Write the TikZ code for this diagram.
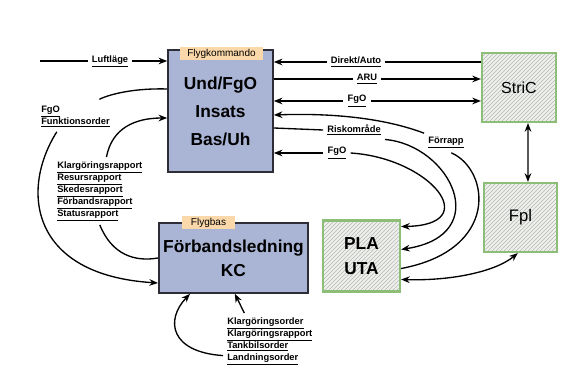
\documentclass[tikz,border=0pt]{standalone}
\usepackage{fontspec}
\setmainfont{Liberation Sans}
\usepackage{tikz}
\usetikzlibrary{positioning,arrows.meta,patterns}

\begin{document}
\begin{tikzpicture}[x=0.75pt,y=0.75pt,yscale=-1,xscale=1,
  conn/.style={line width=1pt, >={Stealth[length=6.5pt,width=5pt]}},
  unitbox/.style={draw={rgb, 255:red, 45; green, 45; blue, 55}, line width=1.2pt, fill={rgb, 255:red, 170; green, 181; blue, 214}, align=center},
  tabnode/.style={fill={rgb, 255:red, 250; green, 216; blue, 170}, font=\fontsize{7.5}{8}\selectfont, inner sep=1pt, minimum height=9.75pt},
  stnbox/.style={draw={rgb, 255:red, 140; green, 190; blue, 120}, line width=1.6pt, preaction={fill={rgb, 255:red, 238; green, 240; blue, 236}}, pattern=north east lines, pattern color=black!28, align=center},
  lbl/.style={font=\fontsize{7}{9}\selectfont\bfseries, inner sep=3pt, align=left}]
\useasboundingbox (0,0) rectangle (575,391);

%Boxes
\node[unitbox, minimum width=78.75pt, minimum height=91.5pt, font=\fontsize{13}{21}\selectfont\bfseries] (fk) at (220.5,111) {Und/FgO\\Insats\\Bas/Uh};
\node[tabnode, minimum width=62pt] (fktab) at (221.5,54) {Flygkommando};
\node[unitbox, minimum width=110.25pt, minimum height=52.5pt, font=\fontsize{13}{18}\selectfont\bfseries] (fb) at (233.5,258) {Förbandsledning\\KC};
\node[tabnode, minimum width=40pt] (fbtab) at (208.5,223) {Flygbas};
\node[stnbox, minimum width=57.75pt, minimum height=53.25pt, font=\fontsize{13}{18.75}\selectfont\bfseries] (pla) at (361.5,256) {PLA\\UTA};
\node[stnbox, minimum width=55.5pt, minimum height=51.75pt, font=\fontsize{12}{14}\selectfont] (stric) at (519,87.5) {StriC};
\node[stnbox, minimum width=54.75pt, minimum height=51.75pt, font=\fontsize{12.5}{14}\selectfont] (fpl) at (520.5,217.5) {Fpl};

%Labels
\coordinate (luftin) at (40,61);
\node[lbl] (luft) at (110,61) {\underline{Luftläge}};
\node[lbl] (direkt) at (356,62) {\underline{Direkt/Auto}};
\node[lbl] (aru) at (367,79) {\underline{ARU}};
\node[lbl] (fgoa) at (357,101) {\underline{FgO}};
\node[lbl] (forrapp) at (446,143) {\underline{Förrapp}};
\node[lbl] (risk) at (354,130) {\underline{Riskområde}};
\node[lbl] (fgob) at (337,153) {\underline{FgO}};
\node[lbl, anchor=north west] (funk) at (37,102) {\underline{FgO}\\\underline{Funktionsorder}};
\node[lbl, anchor=north west] (rap) at (53,157) {\underline{Klargöringsrapport}\\\underline{Resursrapport}\\\underline{Skedesrapport}\\\underline{Förbandsrapport}\\\underline{Statusrapport}};
\node[lbl, anchor=north west] (ord) at (223,313) {\underline{Klargöringsorder}\\\underline{Klargöringsrapport}\\\underline{Tankbilsorder}\\\underline{Landningsorder}};

%Connectors, right side
\draw[conn] (luftin) -- (luft);
\draw[conn,->] (luft) -- (fk.west |- luft);
\draw[conn,<-] (fk.east |- direkt) -- (direkt);
\draw[conn] (direkt) -- (stric.west |- direkt);
\draw[conn] (fk.east |- aru) -- (aru);
\draw[conn,->] (aru) -- (stric.west |- aru);
\draw[conn,<-] (fk.east |- fgoa) -- (fgoa);
\draw[conn,->] (fgoa) -- (stric.west |- fgoa);
\draw[conn,<-] ([yshift=3pt]fk.east) .. controls (360,112) and (405,126) .. (forrapp.north west);
\draw[conn] ([xshift=4pt]forrapp.south) .. controls (490,170) and (500,250) .. ([yshift=9.4pt]pla.east);
\draw[conn] ([yshift=12.75pt]fk.east) -- (risk.west);
\draw[conn,->] (risk.south east) .. controls (450,145) and (495,235) .. ([yshift=-4.9pt]pla.east);
\draw[conn,<-] (fk.east |- fgob) -- (fgob);
\draw[conn,->] (fgob.east) .. controls (430,158) and (485,225) .. ([yshift=-22.1pt]pla.east);
\draw[conn,<->] ([yshift=17.6pt]pla.east) .. controls (450,281) and (495,272) .. ([xshift=-2pt]fpl.south);
\draw[conn,<->] ([xshift=6.75pt]stric.south) -- ([xshift=5.6pt]fpl.north);

%Connectors, left side
\draw[conn] ([yshift=-16.5pt]fk.west) .. controls (135,88) and (110,94) .. ([xshift=-11pt,yshift=-2pt]funk.north east);
\draw[conn,->] ([xshift=-14pt]funk.south) .. controls (20,190) and (30,275) .. ([yshift=18.75pt]fb.west);
\draw[conn,->] ([xshift=5pt]rap.north) .. controls (112,128) and (135,118) .. ([yshift=5.25pt]fk.west);
\draw[conn] (rap.south) .. controls (112,255) and (135,262) .. (fb.west);
\draw[conn,->] ([xshift=16pt]ord.north west) -- ([xshift=1pt]fb.south);
\draw[conn,->] ([yshift=-10pt]ord.south west) .. controls (170,352) and (165,320) .. ([xshift=-32.6pt]fb.south);

\end{tikzpicture}
\end{document}
